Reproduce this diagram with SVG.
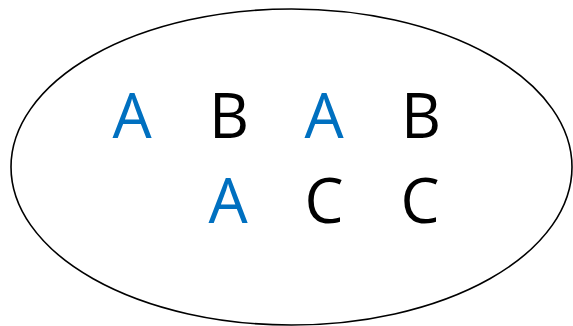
<svg xmlns="http://www.w3.org/2000/svg" width="573" height="326" viewBox="0 0 573 326">
<style>
.t{font-family:"Open Sans","Liberation Sans",sans-serif;font-size:62px;text-anchor:middle}
.b{fill:#0070C0}.k{fill:#000}
</style>
<rect width="573" height="326" fill="#fff"/>
<g id="set">
<ellipse cx="291.5" cy="167" rx="280.5" ry="158" fill="none" stroke="#000" stroke-width="1.6"/>
</g>
<g id="a1"><text class="t b" x="132" y="138">A</text></g>
<g id="b1"><text class="t k" x="229" y="138">B</text></g>
<g id="a2"><text class="t b" x="324" y="138">A</text></g>
<g id="b2"><text class="t k" x="421" y="138">B</text></g>
<g id="a3"><text class="t b" x="228" y="223">A</text></g>
<g id="c1"><text class="t k" x="324" y="223">C</text></g>
<g id="c2"><text class="t k" x="420" y="223">C</text></g>
<g id="connectors"></g>
</svg>
